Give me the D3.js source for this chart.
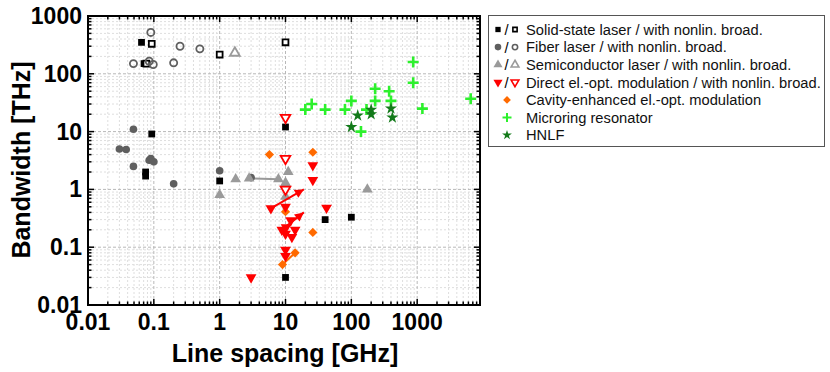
<!DOCTYPE html>
<html>
<head>
<meta charset="utf-8">
<script src="https://cdn.jsdelivr.net/npm/d3@7"></script>
<style>
	body { margin: 0; background: #fff; }
	svg { display: block; font-family: 'Liberation Sans', Arial, sans-serif; }
</style>
</head>
<body>
<svg id="chart" width="830" height="372"></svg>
<script>
// Line spacing [GHz], bandwidth [THz]
const solidState = [ [ 0.065, 350 ], [ 0.071, 150 ], [ 0.093, 9.1 ], [ 0.075, 2.0 ], [ 0.075, 1.7 ], [ 1.0, 1.4 ], [ 10, 12 ], [ 40, 0.30 ], [ 100, 0.33 ], [ 10, 0.030 ] ];
const solidStateNl = [ [ 0.093, 330 ], [ 0.077, 150 ], [ 1.0, 215 ], [ 10, 350 ] ];
const fiber = [ [ 0.049, 11 ], [ 0.030, 5.0 ], [ 0.038, 4.9 ], [ 0.049, 2.5 ], [ 0.085, 3.2 ], [ 0.09, 3.4 ], [ 0.10, 3.0 ], [ 0.20, 1.25 ], [ 1.0, 2.1 ], [ 3.0, 1.6 ] ];
const fiberNl = [ [ 0.09, 520 ], [ 0.25, 300 ], [ 0.5, 270 ], [ 0.049, 150 ], [ 0.085, 165 ], [ 0.098, 145 ], [ 0.20, 155 ] ];
const semi = [ [ 1.0, 0.8 ], [ 1.75, 1.5 ], [ 2.8, 1.55 ], [ 7.8, 1.5 ], [ 11, 2.0 ], [ 10, 1.3 ], [ 10, 0.75 ], [ 175, 1.0 ] ];
const semiNl = [ [ 1.7, 230 ] ];
const directEo = [ [ 26, 2.6 ], [ 26, 1.45 ], [ 6, 0.47 ], [ 42, 0.48 ], [ 10, 0.5 ], [ 12, 0.29 ], [ 8.8, 0.2 ], [ 10.2, 0.22 ], [ 10, 0.17 ], [ 14, 0.2 ], [ 12.5, 0.15 ], [ 10, 0.09 ], [ 10, 0.07 ], [ 3.0, 0.03 ] ];
const directEoNl = [ [ 10, 17.5 ], [ 10, 3.4 ], [ 10, 1.0 ] ];
const cavityEo = [ [ 5.7, 4.0 ], [ 26, 4.4 ], [ 10, 0.41 ], [ 26, 0.18 ], [ 9, 0.05 ], [ 14, 0.08 ] ];
const microring = [ [ 20, 24 ], [ 25, 30 ], [ 40, 24 ], [ 80, 24 ], [ 100, 34 ], [ 140, 10 ], [ 170, 24 ], [ 230, 55 ], [ 230, 34 ], [ 375, 50 ], [ 400, 34 ], [ 870, 160 ], [ 870, 70 ], [ 1200, 25 ], [ 6500, 37 ] ];
const hnlf = [ [ 100, 12 ], [ 125, 19 ], [ 200, 24 ], [ 200, 20 ], [ 400, 25 ], [ 420, 17.5 ] ];

// connecting lines [from, to]
const grayLinks = [ [ [ 3.0, 1.55 ], [ 7.8, 1.5 ] ] ];
const redArrows = [ [ [ 6, 0.47 ], [ 19, 1.0 ] ], [ [ 8.8, 0.2 ], [ 19, 0.4 ] ] ];
const orangeLinks = [ [ [ 9, 0.05 ], [ 14, 0.08 ] ] ];

const xTicks = [ 0.01, 0.1, 1, 10, 100, 1000 ];
const yTicks = [ 0.01, 0.1, 1, 10, 100, 1000 ];
const legendLabels = [
	'Solid-state laser / with nonlin. broad.',
	'Fiber laser / with nonlin. broad.',
	'Semiconductor laser / with nonlin. broad.',
	'Direct el.-opt. modulation / with nonlin. broad.',
	'Cavity-enhanced el.-opt. modulation',
	'Microring resonator',
	'HNLF',
];

const COL = {
	solid: '#000',
	fiber: '#5f5f5f',
	semi: '#9a9a9a',
	red: '#ff0000',
	orange: '#ff6a00',
	ring: '#2cf02c',
	hnlf: '#137a1a',
};

const svg = d3.select( '#chart' );
const plot = { left: 88, right: 480, top: 16, bottom: 305 };

const x = d3.scaleLog().domain( [ 0.01, 9000 ] ).range( [ plot.left, plot.right ] );
const y = d3.scaleLog().domain( [ 0.01, 1000 ] ).range( [ plot.bottom, plot.top ] );

// minor positions (2..9 of each decade)
function minors( scale ) {
	const [ lo, hi ] = scale.domain();
	const out = [];
	for ( let d = lo; d < hi; d *= 10 ) {
		for ( let k = 2; k <= 9; k++ ) {
			const v = d * k;
			if ( v <= hi ) {
				out.push( v );
			}
		}
	}
	return out;
}
const xMinor = minors( x );
const yMinor = minors( y );

// grid
const grid = svg.append( 'g' );
grid.selectAll( 'line.xmin' ).data( xMinor ).enter().append( 'line' )
	.attr( 'x1', ( d ) => x( d ) ).attr( 'x2', ( d ) => x( d ) )
	.attr( 'y1', plot.top ).attr( 'y2', plot.bottom )
	.attr( 'stroke', '#dedede' ).attr( 'stroke-dasharray', '2,2' );
grid.selectAll( 'line.ymin' ).data( yMinor ).enter().append( 'line' )
	.attr( 'y1', ( d ) => y( d ) ).attr( 'y2', ( d ) => y( d ) )
	.attr( 'x1', plot.left ).attr( 'x2', plot.right )
	.attr( 'stroke', '#dedede' ).attr( 'stroke-dasharray', '2,2' );
grid.selectAll( 'line.xmaj' ).data( xTicks.slice( 1 ) ).enter().append( 'line' )
	.attr( 'x1', ( d ) => x( d ) ).attr( 'x2', ( d ) => x( d ) )
	.attr( 'y1', plot.top ).attr( 'y2', plot.bottom )
	.attr( 'stroke', '#b8b8b8' ).attr( 'stroke-dasharray', '3,2' );
grid.selectAll( 'line.ymaj' ).data( yTicks.slice( 1, -1 ) ).enter().append( 'line' )
	.attr( 'y1', ( d ) => y( d ) ).attr( 'y2', ( d ) => y( d ) )
	.attr( 'x1', plot.left ).attr( 'x2', plot.right )
	.attr( 'stroke', '#b8b8b8' ).attr( 'stroke-dasharray', '3,2' );

// axes with inward ticks, frame on all sides
const axes = svg.append( 'g' );
function tickLines( vals, len, fn ) {
	vals.forEach( ( v ) => {
		const p = fn( v, len );
		axes.append( 'line' ).attr( 'x1', p[ 0 ] ).attr( 'y1', p[ 1 ] ).attr( 'x2', p[ 2 ] ).attr( 'y2', p[ 3 ] )
			.attr( 'stroke', '#000' ).attr( 'stroke-width', 1.5 );
	} );
}
[ [ xTicks, 6 ], [ xMinor, 3.5 ] ].forEach( ( [ vals, len ] ) => {
	tickLines( vals, len, ( v, l ) => [ x( v ), plot.bottom, x( v ), plot.bottom - l ] );
	tickLines( vals, len, ( v, l ) => [ x( v ), plot.top, x( v ), plot.top + l ] );
} );
[ [ yTicks, 6 ], [ yMinor, 3.5 ] ].forEach( ( [ vals, len ] ) => {
	tickLines( vals, len, ( v, l ) => [ plot.left, y( v ), plot.left + l, y( v ) ] );
	tickLines( vals, len, ( v, l ) => [ plot.right, y( v ), plot.right - l, y( v ) ] );
} );
axes.append( 'rect' )
	.attr( 'x', plot.left ).attr( 'y', plot.top )
	.attr( 'width', plot.right - plot.left ).attr( 'height', plot.bottom - plot.top )
	.attr( 'fill', 'none' ).attr( 'stroke', '#000' ).attr( 'stroke-width', 2 );

// tick labels
svg.append( 'g' ).selectAll( 'text' ).data( xTicks ).enter().append( 'text' )
	.attr( 'x', ( d ) => x( d ) ).attr( 'y', 330 )
	.attr( 'text-anchor', 'middle' ).attr( 'font-size', 23 ).attr( 'font-weight', 'bold' )
	.text( ( d ) => String( d ) );
svg.append( 'g' ).selectAll( 'text' ).data( yTicks ).enter().append( 'text' )
	.attr( 'x', 82 ).attr( 'y', ( d ) => y( d ) + 8 )
	.attr( 'text-anchor', 'end' ).attr( 'font-size', 23 ).attr( 'font-weight', 'bold' )
	.text( ( d ) => String( d ) );

// axis titles
svg.append( 'text' )
	.attr( 'x', 285 ).attr( 'y', 362 )
	.attr( 'text-anchor', 'middle' ).attr( 'font-size', 25 ).attr( 'font-weight', 'bold' )
	.text( 'Line spacing [GHz]' );
svg.append( 'text' )
	.attr( 'transform', 'translate(30,160) rotate(-90)' )
	.attr( 'text-anchor', 'middle' ).attr( 'font-size', 25 ).attr( 'font-weight', 'bold' )
	.text( 'Bandwidth [THz]' );

// symbols
const sym = {
	square: d3.symbol().type( d3.symbolSquare ),
	circle: d3.symbol().type( d3.symbolCircle ),
	triUp: d3.symbol().type( d3.symbolTriangle ),
	star: d3.symbol().type( d3.symbolStar ),
};

function drawMarker( g, kind, size, cx, cy, fill, stroke, rot ) {
	let path;
	let angle = rot || 0;
	if ( kind === 'cross' ) {
		const h = size / 2;
		path = `M${ -h },0H${ h }M0,${ -h }V${ h }`;
	} else if ( kind === 'diamond' ) {
		path = sym.square.size( size )();
		angle = 45;
	} else {
		path = sym[ kind ].size( size )();
	}
	return g.append( 'path' )
		.attr( 'd', path )
		.attr( 'transform', `translate(${ cx },${ cy })${ angle ? ` rotate(${ angle })` : '' }` )
		.attr( 'fill', fill )
		.attr( 'stroke', stroke || 'none' )
		.attr( 'stroke-width', kind === 'cross' ? 2.6 : 1.8 );
}

function drawSeries( data, kind, size, fill, stroke, rot ) {
	const g = svg.append( 'g' );
	data.forEach( ( d ) => drawMarker( g, kind, size, x( d[ 0 ] ), y( d[ 1 ] ), fill, stroke, rot ) );
}

function drawLinks( links, color, arrow ) {
	const g = svg.append( 'g' );
	links.forEach( ( [ a, b ] ) => {
		const x1 = x( a[ 0 ] ), y1 = y( a[ 1 ] ), x2 = x( b[ 0 ] ), y2 = y( b[ 1 ] );
		g.append( 'line' ).attr( 'x1', x1 ).attr( 'y1', y1 ).attr( 'x2', x2 ).attr( 'y2', y2 )
			.attr( 'stroke', color ).attr( 'stroke-width', 2 );
		if ( arrow ) {
			const ang = Math.atan2( y2 - y1, x2 - x1 ) * 180 / Math.PI;
			g.append( 'path' ).attr( 'd', 'M0,0L-9,-4.5L-9,4.5Z' )
				.attr( 'transform', `translate(${ x2 },${ y2 }) rotate(${ ang })` )
				.attr( 'fill', color );
		}
	} );
}

drawLinks( grayLinks, COL.semi, false );
drawSeries( solidState, 'square', 46, COL.solid );
drawSeries( solidStateNl, 'square', 34, '#fff', COL.solid );
drawSeries( fiber, 'circle', 46, COL.fiber );
drawSeries( fiberNl, 'circle', 40, 'none', COL.fiber );
drawSeries( semi, 'triUp', 50, COL.semi );
drawSeries( semiNl, 'triUp', 42, 'none', COL.semi );
drawSeries( cavityEo, 'diamond', 42, COL.orange );
drawLinks( orangeLinks, COL.orange, false );
drawSeries( directEo, 'triUp', 50, COL.red, null, 180 );
drawSeries( directEoNl, 'triUp', 40, '#fff', COL.red, 180 );
drawLinks( redArrows, COL.red, true );
drawSeries( microring, 'cross', 11, 'none', COL.ring );
drawSeries( hnlf, 'star', 46, COL.hnlf );

// legend
const lg = svg.append( 'g' );
lg.append( 'rect' )
	.attr( 'x', 488.5 ).attr( 'y', 15.5 ).attr( 'width', 336 ).attr( 'height', 131 )
	.attr( 'fill', '#fff' ).attr( 'stroke', '#555' ).attr( 'stroke-width', 1 );
const rowY = legendLabels.map( ( d, i ) => 29.5 + i * 17.6 );
const pairs = [
	[ 'square', 28, COL.solid, 'square', 18, COL.solid, 0 ],
	[ 'circle', 34, COL.fiber, 'circle', 22, COL.fiber, 0 ],
	[ 'triUp', 36, COL.semi, 'triUp', 26, COL.semi, 0 ],
	[ 'triUp', 36, COL.red, 'triUp', 26, COL.red, 180 ],
];
pairs.forEach( ( p, i ) => {
	const cy = rowY[ i ];
	drawMarker( lg, p[ 0 ], p[ 1 ], 498, cy, p[ 2 ], null, p[ 6 ] );
	lg.append( 'text' ).attr( 'x', 506.5 ).attr( 'y', cy + 5.5 ).attr( 'text-anchor', 'middle' )
		.attr( 'font-size', 14.7 ).text( '/' );
	drawMarker( lg, p[ 3 ], p[ 4 ], 515, cy, '#fff', p[ 5 ], p[ 6 ] ).attr( 'stroke-width', 1.6 );
} );
drawMarker( lg, 'diamond', 30, 507, rowY[ 4 ], COL.orange );
drawMarker( lg, 'cross', 9, 507, rowY[ 5 ], 'none', COL.ring ).attr( 'stroke-width', 2 );
drawMarker( lg, 'star', 30, 507, rowY[ 6 ], COL.hnlf );
lg.selectAll( 'text.lab' ).data( legendLabels ).enter().append( 'text' )
	.attr( 'class', 'lab' )
	.attr( 'x', 526 ).attr( 'y', ( d, i ) => rowY[ i ] + 5.3 )
	.attr( 'font-size', 14.7 ).attr( 'fill', '#111' )
	.text( ( d ) => d );
</script>
</body>
</html>
